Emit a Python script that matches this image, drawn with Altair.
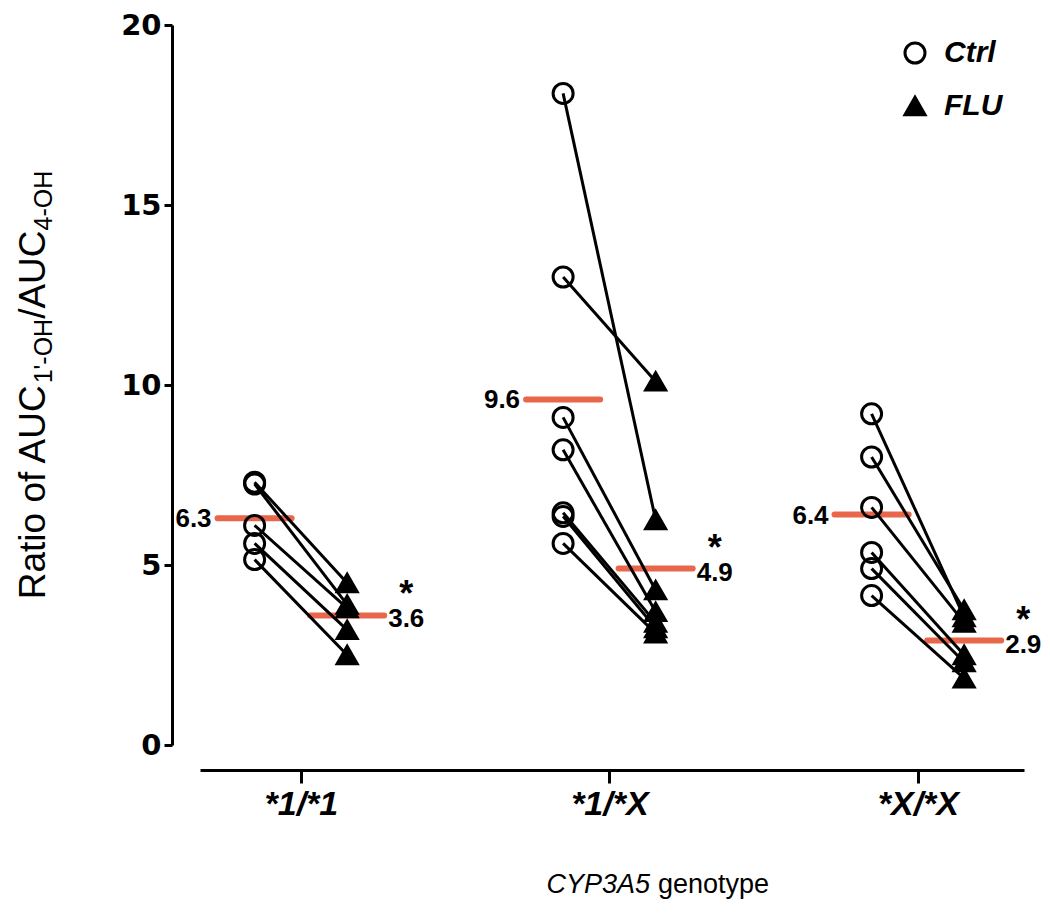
import json
import altair as alt
import pandas as pd

# ---------------- data ----------------
genotypes = ["*1/*1", "*1/*X", "*X/*X"]
treatments = ["Ctrl", "FLU"]

ctrl_11 = [7.3, 7.25, 6.1, 5.6, 5.15]
flu_11 = [4.5, 3.9, 3.8, 3.2, 2.5]
ctrl_1X = [18.1, 13.0, 9.1, 8.2, 6.45, 6.35, 5.6]
flu_1X = [6.25, 10.1, 4.3, 3.7, 3.4, 3.25, 3.1]
ctrl_XX = [9.2, 8.0, 6.6, 5.35, 4.9, 4.15]
flu_XX = [3.55, 3.75, 3.4, 2.5, 2.3, 1.85]

mean_ctrl = [6.3, 9.6, 6.4]
mean_flu = [3.6, 4.9, 2.9]
mean_ctrl_labels = ["6.3", "9.6", "6.4"]
mean_flu_labels = ["3.6", "4.9", "2.9"]
significance = ["*", "*", "*"]

y_ticks = [0, 5, 10, 15, 20]
x_title_parts = ["CYP3A5", "genotype"]
y_title_parts = [("Ratio of AUC", False), ("1'-OH", True), ("/AUC", False), ("4-OH", True)]

# ---------------- styling ----------------
FONT = "Liberation Sans"
RED = "#E8674A"
OFF = 0.15      # ctrl / FLU offset from group centre (x units)
HALF = 0.12     # half width of mean bars (x units)

ctrl_lists = [ctrl_11, ctrl_1X, ctrl_XX]
flu_lists = [flu_11, flu_1X, flu_XX]

pairs = []
longs = []
for g, (cl, fl) in enumerate(zip(ctrl_lists, flu_lists)):
    for i, (c, f) in enumerate(zip(cl, fl)):
        pairs.append({"gi": g + 1, "genotype": genotypes[g], "subject": f"{g}-{i}", "ctrl": c, "flu": f})
        longs.append({"gi": g + 1, "treatment": "Ctrl", "value": c})
        longs.append({"gi": g + 1, "treatment": "FLU", "value": f})
pairs = pd.DataFrame(pairs)
longs = pd.DataFrame(longs)

means = pd.DataFrame({
    "gi": [1, 2, 3],
    "mctrl": mean_ctrl,
    "mflu": mean_flu,
    "lctrl": mean_ctrl_labels,
    "lflu": mean_flu_labels,
    "sig": significance,
})

xscale = alt.Scale(domain=[0.673, 3.344], nice=False, zero=False)
yscale = alt.Scale(domain=[0, 20], nice=False, zero=True)

label_expr = "%s[datum.value - 1]" % json.dumps(genotypes)

x_axis = alt.Axis(
    values=[1, 2, 3], labelExpr=label_expr, offset=25, grid=False, title=None,
    domainColor="black", domainWidth=3, tickColor="black", tickWidth=3, tickSize=13,
    labelFont=FONT, labelFontSize=34, labelFontStyle="italic", labelFontWeight="bold",
    labelColor="black", labelPadding=4,
)
y_axis = alt.Axis(
    values=y_ticks, offset=28, grid=False, title=None,
    domainColor="black", domainWidth=3, tickColor="black", tickWidth=3, tickSize=8,
    labelFont="DejaVu Sans", labelFontSize=29, labelFontWeight="bold", labelColor="black",
    labelPadding=3,
)

# mean bars
mean_ctrl_bar = alt.Chart(means).transform_calculate(
    xl=f"datum.gi - {OFF} - {HALF}", xr=f"datum.gi - {OFF} + {HALF}"
).mark_rule(color=RED, strokeWidth=6, strokeCap="round").encode(
    x=alt.X("xl:Q", scale=xscale, axis=x_axis),
    x2="xr:Q",
    y=alt.Y("mctrl:Q", scale=yscale, axis=y_axis),
)
mean_flu_bar = alt.Chart(means).transform_calculate(
    xl=f"datum.gi + {OFF} - {HALF}", xr=f"datum.gi + {OFF} + {HALF}"
).mark_rule(color=RED, strokeWidth=6, strokeCap="round").encode(
    x=alt.X("xl:Q", scale=xscale),
    x2="xr:Q",
    y=alt.Y("mflu:Q", scale=yscale),
)

mean_ctrl_text = alt.Chart(means).transform_calculate(
    xl=f"datum.gi - {OFF} - {HALF}"
).mark_text(align="right", baseline="middle", dx=-6, dy=1, font=FONT, fontSize=26,
            fontWeight="bold", color="black").encode(
    x=alt.X("xl:Q", scale=xscale), y=alt.Y("mctrl:Q", scale=yscale), text="lctrl:N"
)
mean_flu_text = alt.Chart(means).transform_calculate(
    xr=f"datum.gi + {OFF} + {HALF}"
).mark_text(align="left", baseline="middle", dx=4, dy=4, font=FONT, fontSize=26,
            fontWeight="bold", color="black").encode(
    x=alt.X("xr:Q", scale=xscale), y=alt.Y("mflu:Q", scale=yscale), text="lflu:N"
)
sig_text = alt.Chart(means).transform_calculate(
    xr=f"datum.gi + {OFF} + {HALF}"
).mark_text(align="center", baseline="middle", dx=22, dy=-20, font=FONT, fontSize=36,
            fontWeight="bold", color="black").encode(
    x=alt.X("xr:Q", scale=xscale), y=alt.Y("mflu:Q", scale=yscale), text="sig:N"
)

# paired lines
pair_lines = alt.Chart(pairs).transform_calculate(
    xc=f"datum.gi - {OFF}", xf=f"datum.gi + {OFF}"
).mark_rule(color="black", strokeWidth=3).encode(
    x=alt.X("xc:Q", scale=xscale), x2="xf:Q",
    y=alt.Y("ctrl:Q", scale=yscale), y2="flu:Q",
    detail="subject:N",
)

legend = alt.Legend(
    title=None, orient="none", legendX=700, legendY=13,
    labelFont=FONT, labelFontSize=30, labelFontStyle="italic", labelFontWeight="bold",
    labelColor="black", labelOffset=14, rowPadding=22,
    symbolSize=400, symbolStrokeWidth=3, symbolStrokeColor="black", symbolOpacity=1,
)

points = alt.Chart(longs).transform_calculate(
    xp=f"datum.treatment == 'Ctrl' ? datum.gi - {OFF} : datum.gi + {OFF}"
).mark_point(size=400, strokeWidth=3, opacity=1).encode(
    x=alt.X("xp:Q", scale=xscale),
    y=alt.Y("value:Q", scale=yscale),
    shape=alt.Shape("treatment:N", scale=alt.Scale(domain=treatments, range=["circle", "triangle-up"]), legend=legend),
    fill=alt.Fill("treatment:N", scale=alt.Scale(domain=treatments, range=["transparent", "black"]), legend=legend),
    stroke=alt.Stroke("treatment:N", scale=alt.Scale(domain=treatments, range=["black", "black"]), legend=legend),
)

# y-axis title, built from pieces (with subscripts)
AW = {" ": 278, "'": 191, "-": 333, "/": 278, "1": 556, "4": 556, "A": 667, "C": 722,
      "H": 722, "O": 778, "R": 722, "U": 722, "a": 556, "f": 278, "i": 222, "o": 556, "t": 278}
MAIN_FS, SUB_FS = 37, 25
def tw(s, fs):
    return sum(AW.get(ch, 556) for ch in s) / 1000.0 * fs

total = sum(tw(s, SUB_FS if sub else MAIN_FS) for s, sub in y_title_parts)
cur = 360 + total / 2.0
ytitle_layers = []
for s, sub in y_title_parts:
    fs = SUB_FS if sub else MAIN_FS
    ytitle_layers.append(
        alt.Chart(pd.DataFrame({"t": [s]})).mark_text(
            angle=270, align="left", baseline="alphabetic", font=FONT, fontSize=fs,
            color="black",
        ).encode(x=alt.value(-155 + (7 if sub else 0)), y=alt.value(cur), text="t:N")
    )
    cur -= tw(s, fs)

xt1 = alt.Chart(pd.DataFrame({"t": [x_title_parts[0]]})).mark_text(
    align="right", baseline="middle", font=FONT, fontSize=27, fontStyle="italic", color="black"
).encode(x=alt.value(450), y=alt.value(860), text="t:N")
xt2 = alt.Chart(pd.DataFrame({"t": [x_title_parts[1]]})).mark_text(
    align="left", baseline="middle", font=FONT, fontSize=27, color="black"
).encode(x=alt.value(458), y=alt.value(860), text="t:N")

chart = alt.layer(
    mean_ctrl_bar, mean_flu_bar, pair_lines, points,
    mean_ctrl_text, mean_flu_text, sig_text, xt1, xt2, *ytitle_layers,
).properties(
    width=824, height=720,
    padding={"left": 192, "top": 17, "right": 18, "bottom": 160},
    autosize=alt.AutoSizeParams(type="none"),
).configure_view(stroke=None)

chart.save("out.html", embed_options={"renderer": "svg", "actions": False})
